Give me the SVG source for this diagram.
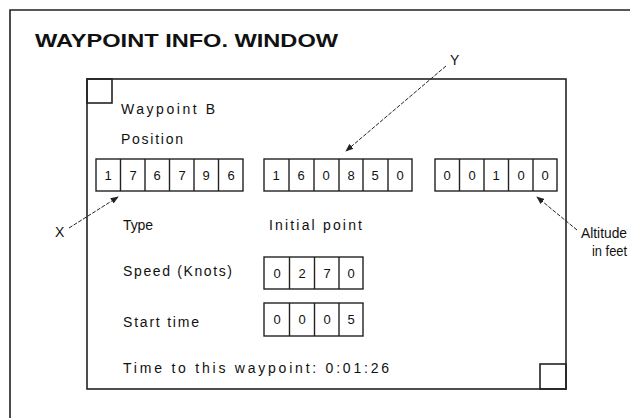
<svg xmlns="http://www.w3.org/2000/svg" width="630" height="418" viewBox="0 0 630 418">
<style>
.t{font-family:"Liberation Sans",Arial,sans-serif;font-size:14px;fill:#111}
.d{font-family:"Liberation Sans",Arial,sans-serif;font-size:13px;fill:#111;text-anchor:middle}
.title{font-family:"Liberation Sans",Arial,sans-serif;font-size:19px;font-weight:bold;fill:#111}
.frame{fill:none;stroke:#222;stroke-width:1.6}
.box{fill:#fff;stroke:#222;stroke-width:1.4}
.lead{fill:none;stroke:#222;stroke-width:1;stroke-dasharray:4 1.5;marker-end:url(#ah)}
</style>
<defs>
<marker id="ah" viewBox="0 0 10 10" refX="9" refY="5" markerWidth="8" markerHeight="8" orient="auto" markerUnits="userSpaceOnUse">
<path d="M0,1 L10,5 L0,9 Z" fill="#222"/>
</marker>
</defs>
<rect width="630" height="418" fill="#fff"/>
<g id="outer">
<path class="frame" d="M10,418 V10 H630"/>
<text class="title" x="35" y="47" textLength="303" lengthAdjust="spacingAndGlyphs">WAYPOINT INFO. WINDOW</text>
</g>
<g id="window">
<rect class="frame" x="87" y="79" width="479" height="310" stroke-width="2"/>
<rect class="frame" x="87" y="79" width="25" height="24"/>
<rect class="frame" x="540" y="364" width="26" height="25"/>
<text class="t" x="121" y="114" textLength="94">Waypoint B</text>
<text class="t" x="121" y="144" textLength="62">Position</text>
<text class="t" x="123" y="230" textLength="30">Type</text>
<text class="t" x="269" y="230" textLength="93">Initial point</text>
<text class="t" x="123" y="276" textLength="109">Speed (Knots)</text>
<text class="t" x="123" y="327" textLength="76">Start time</text>
<text class="t" x="123" y="373" textLength="266">Time to this waypoint: 0:01:26</text>
</g>
<g id="x-field">
<rect class="box" x="96" y="159" width="147" height="32"/>
<path class="box" d="M120.5,159V191M145,159V191M169.5,159V191M194,159V191M218.5,159V191"/>
<text class="d" y="180"><tspan x="108">1</tspan><tspan x="133">7</tspan><tspan x="157">6</tspan><tspan x="182">7</tspan><tspan x="206">9</tspan><tspan x="231">6</tspan></text>
</g>
<g id="y-field">
<rect class="box" x="264" y="159" width="148" height="32"/>
<path class="box" d="M289,159V191M314,159V191M339,159V191M363,159V191M388,159V191"/>
<text class="d" y="180"><tspan x="276">1</tspan><tspan x="301">6</tspan><tspan x="326">0</tspan><tspan x="351">8</tspan><tspan x="375">5</tspan><tspan x="400">0</tspan></text>
</g>
<g id="altitude-field">
<rect class="box" x="435" y="159" width="122" height="32"/>
<path class="box" d="M459.5,159V191M484,159V191M508.5,159V191M533,159V191"/>
<text class="d" y="180"><tspan x="447">0</tspan><tspan x="472">0</tspan><tspan x="496">1</tspan><tspan x="521">0</tspan><tspan x="545">0</tspan></text>
</g>
<g id="speed-field">
<rect class="box" x="264" y="257" width="99" height="32"/>
<path class="box" d="M289.5,257V289M314.5,257V289M339,257V289"/>
<text class="d" y="278"><tspan x="277">0</tspan><tspan x="302">2</tspan><tspan x="327">7</tspan><tspan x="351">0</tspan></text>
</g>
<g id="start-field">
<rect class="box" x="264" y="303" width="99" height="33"/>
<path class="box" d="M289.5,303V336M314.5,303V336M339,303V336"/>
<text class="d" y="324"><tspan x="277">0</tspan><tspan x="302">0</tspan><tspan x="327">0</tspan><tspan x="351">5</tspan></text>
</g>
<g id="labels">
<text class="t" x="450" y="65" font-size="12">Y</text>
<text class="t" x="55" y="237" font-size="12">X</text>
<text class="t" x="581" y="238" font-size="12" textLength="46" lengthAdjust="spacingAndGlyphs">Altitude</text>
<text class="t" x="592" y="256" font-size="12" textLength="35" lengthAdjust="spacingAndGlyphs">in feet</text>
</g>
<g id="connectors">
<path class="lead" d="M446,66 L346,151"/>
<path class="lead" d="M69,228 L118,197"/>
<path class="lead" d="M577,230 L537,197"/>
</g>
</svg>
